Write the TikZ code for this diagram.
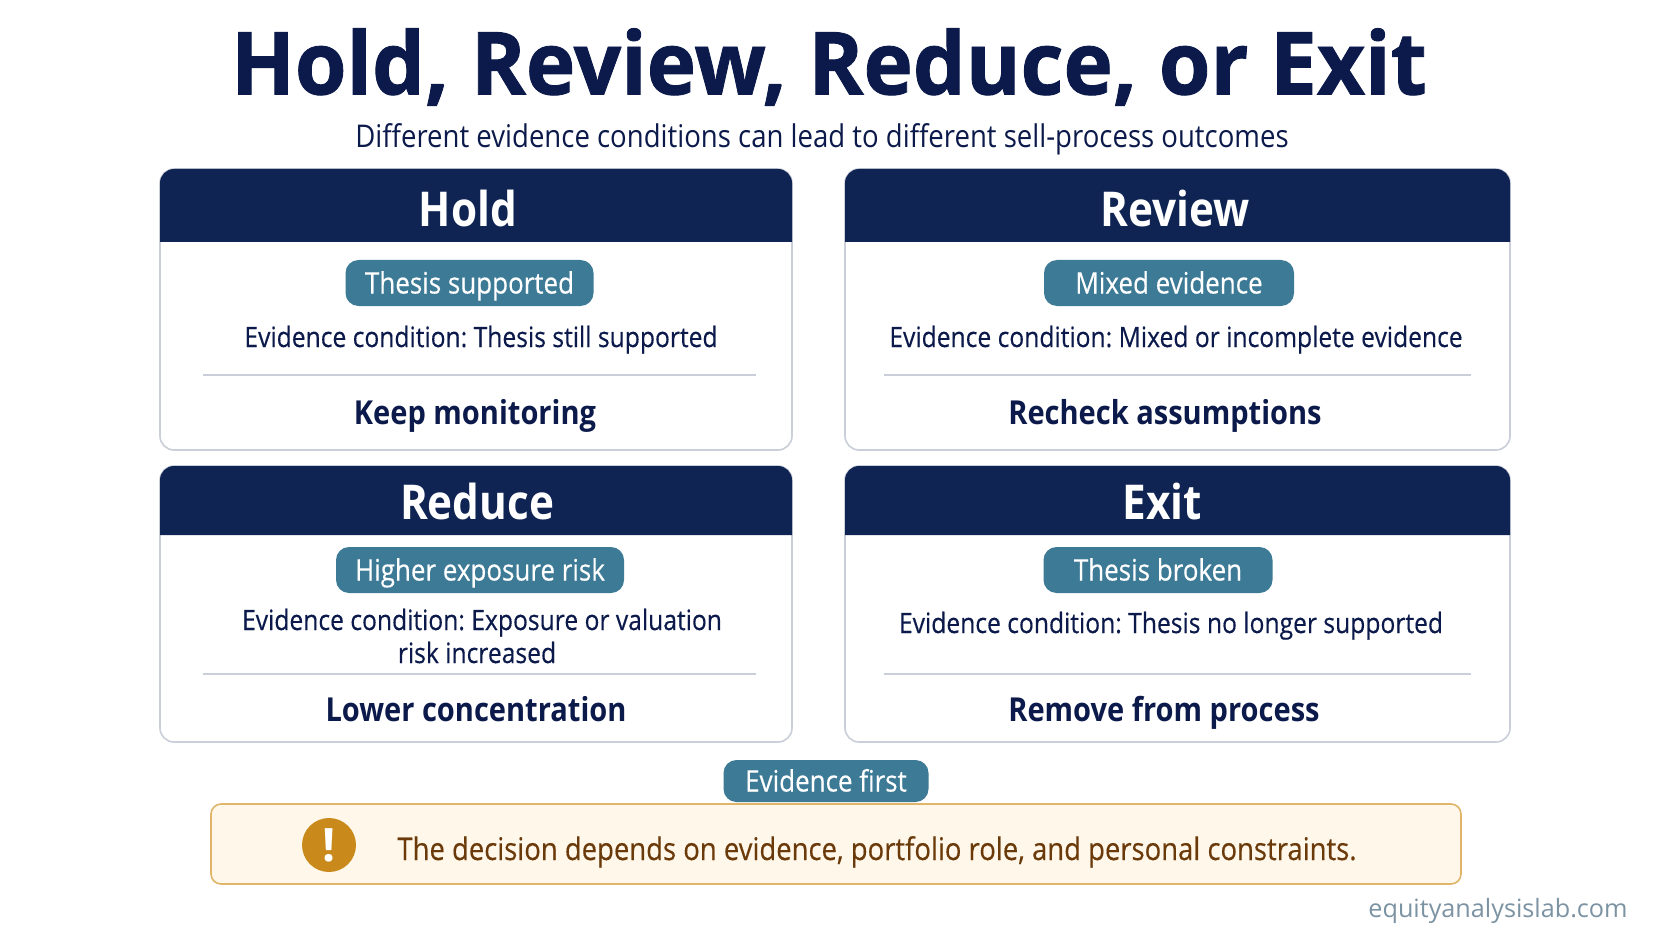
\documentclass[tikz,border=0pt]{standalone}
\usepackage{fontspec}
\setmainfont{Open Sans}
\newfontfamily\bodyfont[FakeStretch=0.88]{Open Sans}
\newfontfamily\medfont[FakeStretch=0.88,FakeBold=0.3]{Open Sans}
\newfontfamily\titlefont[FakeStretch=0.96,BoldFeatures={FakeBold=1}]{Open Sans}
\definecolor{navy}{HTML}{0F2453}
\definecolor{inkblue}{HTML}{0B1A4A}
\definecolor{teal}{HTML}{3D7A96}
\definecolor{edge}{HTML}{C9CED8}
\definecolor{cream}{HTML}{FFF8EA}
\definecolor{sand}{HTML}{E0B56A}
\definecolor{ochre}{HTML}{C98A1B}
\definecolor{umber}{HTML}{6B3A0A}
\definecolor{mist}{HTML}{7C93A3}
\tikzset{
  pill/.style={fill=teal,rounded corners=13pt,text=white,inner sep=0pt,
    text height=27pt,text depth=6pt,
    font=\medfont\fontsize{29.5}{34}\selectfont},
  headtext/.style={text=white,inner sep=0pt,font=\bodyfont\bfseries\fontsize{48}{54}\selectfont},
  condtext/.style={text=inkblue,inner sep=0pt,
    text height=26pt,text depth=6pt,
    font=\medfont\fontsize{28}{33}\selectfont},
  acttext/.style={text=inkblue,inner sep=0pt,text height=27pt,text depth=6pt,
    font=\bodyfont\bfseries\fontsize{33}{38}\selectfont},
}
\begin{document}
\frenchspacing
\begin{tikzpicture}[x=1pt,y=-1pt]
  \useasboundingbox[fill=white] (0,0) rectangle (1672,941);
  \node[inner sep=0pt,text=inkblue,font=\titlefont\bfseries\fontsize{87}{100}\selectfont] (title) at (829,67) {Hold, Review, Reduce, or Exit};
  \node[inner sep=0pt,text=inkblue,font=\bodyfont\fontsize{31.3}{36}\selectfont] (subtitle) at (822,139) {Different evidence conditions can lead to different sell-process outcomes};
  % cards
  \foreach \n/\xa/\xb/\ya/\yh/\yb/\yl/\la/\lb in {hold/160/792/169/242/450/375/203/756,
                                                  review/845/1510/169/242/450/375/884/1471,
                                                  reduce/160/792/466/535/742/674/203/756,
                                                  exit/845/1510/466/535/742/674/884/1471}{%
    \path[coordinate] (\xa,\ya) coordinate(\n A)
                      (\xb,\yb) coordinate(\n B);
    \draw[edge,line width=1.6pt,fill=white,rounded corners=14pt] (\n A) rectangle (\n B);
    \fill[navy] (\xa,\yh) [rounded corners=14pt] -- (\xa,\ya) -- (\xb,\ya) [sharp corners] -- (\xb,\yh) -- cycle;
    \draw[edge,line width=1.6pt] (\la,\yl) -- (\lb,\yl);
  }
  % card texts
  \node[headtext] (holdhead) at (468,209) {Hold};
  \node[headtext] (reviewhead) at (1175,209) {Review};
  \node[headtext] (reducehead) at (477,501) {Reduce};
  \node[headtext] (exithead) at (1162,501) {Exit};
  \node[pill,minimum width=248pt,minimum height=46pt] (holdpill) at (469.5,283) {Thesis supported};
  \node[pill,minimum width=250pt,minimum height=46pt] (reviewpill) at (1169,283) {Mixed evidence};
  \node[pill,minimum width=288pt,minimum height=46pt] (reducepill) at (480,570) {Higher exposure risk};
  \node[pill,minimum width=229pt,minimum height=46pt] (exitpill) at (1158,570) {Thesis broken};
  \node[condtext] (holdcond) at (481,337) {Evidence condition: Thesis still supported};
  \node[condtext] (reviewcond) at (1176,337) {Evidence condition: Mixed or incomplete evidence};
  \node[condtext] (reducecond) at (482,620) {Evidence condition: Exposure or valuation};
  \node[condtext] (reducemore) at (477,653) {risk increased};
  \node[condtext] (exitcond) at (1171,623) {Evidence condition: Thesis no longer supported};
  \node[acttext] (holdact) at (475,414) {Keep monitoring};
  \node[acttext] (reviewact) at (1165,414) {Recheck assumptions};
  \node[acttext] (reduceact) at (476,711) {Lower concentration};
  \node[acttext] (exitact) at (1164,711) {Remove from process};
  % bottom note
  \node[pill,minimum width=205pt,minimum height=42pt] (first) at (826,781) {Evidence first};
  \draw[sand,line width=1.6pt,fill=cream,rounded corners=10pt] (211,804) coordinate(noteA) rectangle (1461,884) coordinate(noteB);
  \node[circle,fill=ochre,minimum size=54pt,inner sep=0pt,text=white,font=\bfseries\fontsize{46}{46}\selectfont] (warn) at (329,845) {!};
  \node[inner sep=0pt,text=umber,text height=28pt,text depth=6pt,font=\medfont\fontsize{31.2}{36}\selectfont] (notetext) at (877,849) {The decision depends on evidence, portfolio role, and personal constraints.};
  \node[inner sep=0pt,text=mist,font=\fontsize{25.2}{30}\selectfont] (site) at (1498,911) {equityanalysislab.com};
\end{tikzpicture}
\end{document}
